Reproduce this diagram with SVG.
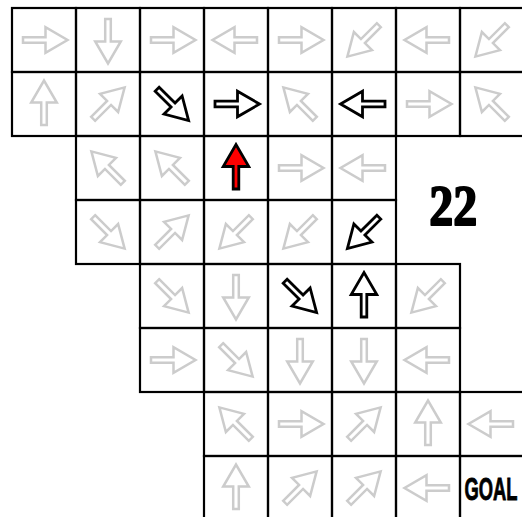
<svg xmlns="http://www.w3.org/2000/svg" xmlns:xlink="http://www.w3.org/1999/xlink" width="522" height="517" viewBox="0 0 522 517">
<style>
.cell{fill:none;stroke:#000;stroke-width:2.2}
.g{fill:#fff;stroke:#cccccc;stroke-width:2.5;stroke-linejoin:miter}
.b{fill:#fff;stroke:#000;stroke-width:2.8;stroke-linejoin:miter}
.r{fill:#ff0000;stroke:#000;stroke-width:2.8;stroke-linejoin:miter}
.num{font-family:"Liberation Serif",serif;font-weight:bold;font-size:57px;fill:#000;stroke:#000;stroke-width:2;stroke-linejoin:round}
.goal{font-family:"Liberation Sans",sans-serif;font-weight:bold;font-size:32px;fill:#000;stroke:#000;stroke-width:0.9}
</style>
<defs>
<path id="arr" d="M-21,-2.8 L1.5,-2.8 L1.5,-12.8 L23.5,0 L1.5,12.8 L1.5,2.8 L-21,2.8 Z"/>
</defs>
<rect x="0" y="0" width="522" height="517" fill="#fff"/>
<g id="connectors"></g>
<!-- Row 0 -->
<g id="c0_0"><rect class="cell" x="12" y="8" width="64" height="64"/><use xlink:href="#arr" class="g" transform="translate(44,40) rotate(0)"/></g>
<g id="c0_1"><rect class="cell" x="76" y="8" width="64" height="64"/><use xlink:href="#arr" class="g" transform="translate(108,40) rotate(90)"/></g>
<g id="c0_2"><rect class="cell" x="140" y="8" width="64" height="64"/><use xlink:href="#arr" class="g" transform="translate(172,40) rotate(0)"/></g>
<g id="c0_3"><rect class="cell" x="204" y="8" width="64" height="64"/><use xlink:href="#arr" class="g" transform="translate(236,40) rotate(180)"/></g>
<g id="c0_4"><rect class="cell" x="268" y="8" width="64" height="64"/><use xlink:href="#arr" class="g" transform="translate(300,40) rotate(0)"/></g>
<g id="c0_5"><rect class="cell" x="332" y="8" width="64" height="64"/><use xlink:href="#arr" class="g" transform="translate(364,40) rotate(135)"/></g>
<g id="c0_6"><rect class="cell" x="396" y="8" width="64" height="64"/><use xlink:href="#arr" class="g" transform="translate(428,40) rotate(180)"/></g>
<g id="c0_7"><rect class="cell" x="460" y="8" width="64" height="64"/><use xlink:href="#arr" class="g" transform="translate(492,40) rotate(135)"/></g>
<!-- Row 1 -->
<g id="c1_0"><rect class="cell" x="12" y="72" width="64" height="64"/><use xlink:href="#arr" class="g" transform="translate(44,104) rotate(270)"/></g>
<g id="c1_1"><rect class="cell" x="76" y="72" width="64" height="64"/><use xlink:href="#arr" class="g" transform="translate(108,104) rotate(315)"/></g>
<g id="c1_2"><rect class="cell" x="140" y="72" width="64" height="64"/><use xlink:href="#arr" class="b" transform="translate(172,104) rotate(45)"/></g>
<g id="c1_3"><rect class="cell" x="204" y="72" width="64" height="64"/><use xlink:href="#arr" class="b" transform="translate(236,104) rotate(0)"/></g>
<g id="c1_4"><rect class="cell" x="268" y="72" width="64" height="64"/><use xlink:href="#arr" class="g" transform="translate(300,104) rotate(225)"/></g>
<g id="c1_5"><rect class="cell" x="332" y="72" width="64" height="64"/><use xlink:href="#arr" class="b" transform="translate(364,104) rotate(180)"/></g>
<g id="c1_6"><rect class="cell" x="396" y="72" width="64" height="64"/><use xlink:href="#arr" class="g" transform="translate(428,104) rotate(0)"/></g>
<g id="c1_7"><rect class="cell" x="460" y="72" width="64" height="64"/><use xlink:href="#arr" class="g" transform="translate(492,104) rotate(225)"/></g>
<!-- Row 2 -->
<g id="c2_1"><rect class="cell" x="76" y="136" width="64" height="64"/><use xlink:href="#arr" class="g" transform="translate(108,168) rotate(225)"/></g>
<g id="c2_2"><rect class="cell" x="140" y="136" width="64" height="64"/><use xlink:href="#arr" class="g" transform="translate(172,168) rotate(225)"/></g>
<g id="c2_3"><rect class="cell" x="204" y="136" width="64" height="64"/><use xlink:href="#arr" class="r" transform="translate(236,168) rotate(270)"/></g>
<g id="c2_4"><rect class="cell" x="268" y="136" width="64" height="64"/><use xlink:href="#arr" class="g" transform="translate(300,168) rotate(0)"/></g>
<g id="c2_5"><rect class="cell" x="332" y="136" width="64" height="64"/><use xlink:href="#arr" class="g" transform="translate(364,168) rotate(180)"/></g>
<!-- Row 3 -->
<g id="c3_1"><rect class="cell" x="76" y="200" width="64" height="64"/><use xlink:href="#arr" class="g" transform="translate(108,232) rotate(45)"/></g>
<g id="c3_2"><rect class="cell" x="140" y="200" width="64" height="64"/><use xlink:href="#arr" class="g" transform="translate(172,232) rotate(315)"/></g>
<g id="c3_3"><rect class="cell" x="204" y="200" width="64" height="64"/><use xlink:href="#arr" class="g" transform="translate(236,232) rotate(135)"/></g>
<g id="c3_4"><rect class="cell" x="268" y="200" width="64" height="64"/><use xlink:href="#arr" class="g" transform="translate(300,232) rotate(135)"/></g>
<g id="c3_5"><rect class="cell" x="332" y="200" width="64" height="64"/><use xlink:href="#arr" class="b" transform="translate(364,232) rotate(135)"/></g>
<!-- Row 4 -->
<g id="c4_2"><rect class="cell" x="140" y="264" width="64" height="64"/><use xlink:href="#arr" class="g" transform="translate(172,296) rotate(45)"/></g>
<g id="c4_3"><rect class="cell" x="204" y="264" width="64" height="64"/><use xlink:href="#arr" class="g" transform="translate(236,296) rotate(90)"/></g>
<g id="c4_4"><rect class="cell" x="268" y="264" width="64" height="64"/><use xlink:href="#arr" class="b" transform="translate(300,296) rotate(45)"/></g>
<g id="c4_5"><rect class="cell" x="332" y="264" width="64" height="64"/><use xlink:href="#arr" class="b" transform="translate(364,296) rotate(270)"/></g>
<g id="c4_6"><rect class="cell" x="396" y="264" width="64" height="64"/><use xlink:href="#arr" class="g" transform="translate(428,296) rotate(135)"/></g>
<!-- Row 5 -->
<g id="c5_2"><rect class="cell" x="140" y="328" width="64" height="64"/><use xlink:href="#arr" class="g" transform="translate(172,360) rotate(0)"/></g>
<g id="c5_3"><rect class="cell" x="204" y="328" width="64" height="64"/><use xlink:href="#arr" class="g" transform="translate(236,360) rotate(45)"/></g>
<g id="c5_4"><rect class="cell" x="268" y="328" width="64" height="64"/><use xlink:href="#arr" class="g" transform="translate(300,360) rotate(90)"/></g>
<g id="c5_5"><rect class="cell" x="332" y="328" width="64" height="64"/><use xlink:href="#arr" class="g" transform="translate(364,360) rotate(90)"/></g>
<g id="c5_6"><rect class="cell" x="396" y="328" width="64" height="64"/><use xlink:href="#arr" class="g" transform="translate(428,360) rotate(180)"/></g>
<!-- Row 6 -->
<g id="c6_3"><rect class="cell" x="204" y="392" width="64" height="64"/><use xlink:href="#arr" class="g" transform="translate(236,424) rotate(225)"/></g>
<g id="c6_4"><rect class="cell" x="268" y="392" width="64" height="64"/><use xlink:href="#arr" class="g" transform="translate(300,424) rotate(0)"/></g>
<g id="c6_5"><rect class="cell" x="332" y="392" width="64" height="64"/><use xlink:href="#arr" class="g" transform="translate(364,424) rotate(315)"/></g>
<g id="c6_6"><rect class="cell" x="396" y="392" width="64" height="64"/><use xlink:href="#arr" class="g" transform="translate(428,424) rotate(270)"/></g>
<g id="c6_7"><rect class="cell" x="460" y="392" width="64" height="64"/><use xlink:href="#arr" class="g" transform="translate(492,424) rotate(180)"/></g>
<!-- Row 7 -->
<g id="c7_3"><rect class="cell" x="204" y="456" width="64" height="64"/><use xlink:href="#arr" class="g" transform="translate(236,488) rotate(270)"/></g>
<g id="c7_4"><rect class="cell" x="268" y="456" width="64" height="64"/><use xlink:href="#arr" class="g" transform="translate(300,488) rotate(315)"/></g>
<g id="c7_5"><rect class="cell" x="332" y="456" width="64" height="64"/><use xlink:href="#arr" class="g" transform="translate(364,488) rotate(315)"/></g>
<g id="c7_6"><rect class="cell" x="396" y="456" width="64" height="64"/><use xlink:href="#arr" class="g" transform="translate(428,488) rotate(180)"/></g>
<g id="goal"><rect class="cell" x="460" y="456" width="64" height="64"/><text class="goal" x="464.5" y="500" textLength="53" lengthAdjust="spacingAndGlyphs">GOAL</text></g>
<g id="label22"><text class="num" x="429.3" y="224.5" textLength="48" lengthAdjust="spacingAndGlyphs">22</text></g>
</svg>
